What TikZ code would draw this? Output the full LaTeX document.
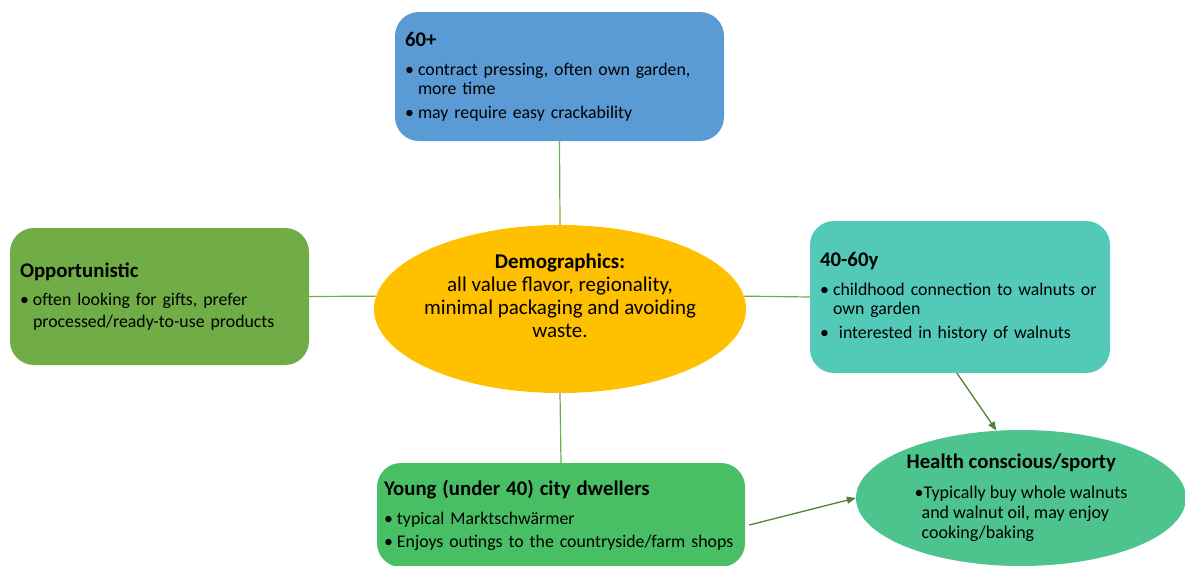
\documentclass[tikz,border=0pt]{standalone}
\usepackage{fontspec}
\setmainfont{Carlito}
\usetikzlibrary{positioning,arrows.meta,shapes.geometric}
\definecolor{SegBlue}{HTML}{5B9BD5}
\definecolor{SegLeaf}{HTML}{70AD47}
\definecolor{SegTeal}{HTML}{53C9B8}
\definecolor{SegGreen}{HTML}{48BF64}
\definecolor{SegMint}{HTML}{4DC48E}
\definecolor{SegGold}{HTML}{FFC000}
\definecolor{SegLine}{HTML}{70AD47}
\definecolor{SegArrow}{HTML}{548235}
\newcommand{\bul}{\makebox[13pt][l]{\textbullet}}
\newcommand{\ind}{\hspace*{13pt}}
\newcommand{\segtitle}[1]{{\fontsize{20.8}{23}\selectfont\bfseries #1}}

\begin{document}
\begin{tikzpicture}[x=1pt,y=-1pt,
  segbox/.style={rounded corners=24pt,inner xsep=10pt,align=left,font=\fontsize{17.8}{19}\selectfont},
  hub/.style={ellipse,fill=SegGold,minimum width=372pt,minimum height=168pt,inner sep=0pt},
  hubtext/.style={align=center,font=\fontsize{21}{23}\selectfont},
  health/.style={ellipse,fill=SegMint,minimum width=330pt,minimum height=136pt,inner sep=0pt},
  link/.style={SegLine,line width=1.2pt},
  arrow/.style={-{Triangle[length=9pt,width=7pt]},SegArrow,line width=1.3pt}
]
\useasboundingbox (0,0) rectangle (1185,565);
% centre
\node[hub] (hub) at (560,309) {};
\node[hubtext] (hubtxt) at (560,296) {\textbf{Demographics:}\\ all value flavor, regionality,\\ minimal packaging and avoiding\\ waste.};
% segments
\node[segbox,fill=SegBlue,minimum width=329pt,minimum height=129pt,text width=309pt] (old) at (559.5,76.5)
  {\segtitle{60+}\\[10pt] \bul contract pressing, often own garden,\\ \ind more time\\[5pt] \bul may require easy crackability};
\node[segbox,fill=SegLeaf,minimum width=299pt,minimum height=137pt,text width=279pt] (opp) at (159.5,296.5)
  {\segtitle{Opportunistic}\\[9pt] \bul often looking for gifts, prefer\\[3pt] \ind processed/ready-to-use products};
\node[segbox,fill=SegTeal,minimum width=300pt,minimum height=152pt,text width=280pt] (mid) at (960,297)
  {\segtitle{40-60y}\\[10pt] \bul childhood connection to walnuts or\\ \ind own garden\\[5pt] \bul\ interested in history of walnuts};
\node[segbox,fill=SegGreen,inner xsep=7pt,minimum width=368pt,minimum height=104pt,text width=354pt] (young) at (561,515)
  {\segtitle{Young (under 40) city dwellers}\\[10pt] \bul typical Marktschwärmer\\[4pt] \bul Enjoys outings to the countryside/farm shops};
\node[health] (health) at (1021,498) {};
\node[align=left,font=\fontsize{18}{20}\selectfont] (healthtxt) at (1021,498)
  {\hspace*{-8pt}\segtitle{Health conscious/sporty}\\[10pt] \textbullet Typically buy whole walnuts\\ \hspace*{7pt}and walnut oil, may enjoy\\ \hspace*{7pt}cooking/baking};
% connectors
\draw[link] (old.south) -- (hub.north);
\draw[link] (opp.east) -- (hub.176);
\draw[link] (hub.4) -- (mid.west);
\draw[link] (hub.south) -- (young.north);
\draw[arrow] ([xshift=-3pt]mid.south) -- (health.110);
\draw[arrow] ([xshift=4pt,yshift=-10pt]young.east) -- (health.west);
\end{tikzpicture}
\end{document}
